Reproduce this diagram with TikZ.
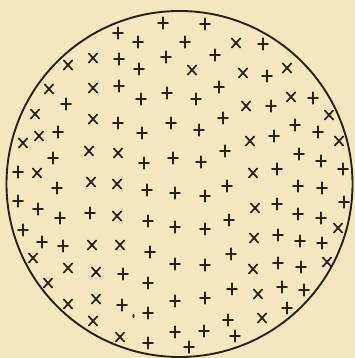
\documentclass[tikz,border=0pt]{standalone}
\definecolor{paper}{RGB}{243,231,192}
\definecolor{ink}{RGB}{40,33,22}
\tikzset{
  markline/.style={draw=ink,line width=1.7pt,line cap=round},
  plusmark/.pic={\draw[markline] (-5,0)--(5,0) (0,-5.8)--(0,5.8);},
  crossmark/.pic={\draw[markline] (-4.2,-4.6)--(4.2,4.6) (-4.2,4.6)--(4.2,-4.6);}
}
\begin{document}
\begin{tikzpicture}[x=1pt,y=-1pt]
\fill[paper] (0,0) rectangle (355,358);
\useasboundingbox (0,0) rectangle (355,358);
\draw[ink,line width=1.9pt] (179.5,184) circle (173);
% plus marks
\foreach \x/\y in {163/23,118/33,138/42,185/42,205/24,263/44,215/55,119/59,139/69,166/57,267/76,
  119/86,141/99,167/93,219/87,196/99,271/106,313/98,66/104,118/123,142/133,171/123,223/118,199/130,274/136,295/125,318/132,
  58/132,144/163,173/158,53/158,18/172,225/151,201/162,277/169,299/154,321/161,343/169,
  57/188,147/190,175/193,18/201,38/209,60/218,90/213,148/221,175/227,23/230,42/242,63/246,150/252,175/264,
  123/274,148/283,175/301,122/305,148/313,148/343,175/332,
  205/196,227/186,298/186,322/188,344/202,277/204,298/214,321/218,229/220,205/229,278/235,300/241,322/243,
  231/254,205/265,278/263,301/267,232/289,205/298,282/287,304/290,287/308,228/320,235/336,204/331,189/347}
  \pic at (\x,\y) {plusmark};
% cross marks
\foreach \x/\y in {68/65,93/58,49/89,93/88,35/114,93/119,39/136,23/143,89/151,118/153,37/173,91/182,
  236/43,192/70,243/73,287/68,246/106,291/97,329/115,250/141,339/141,253/173,
  117/184,117/216,92/245,120/245,33/258,68/268,96/272,48/283,68/304,96/299,93/321,120/337,
  255/208,338/228,254/238,253/269,327/262,258/294,262/318}
  \pic at (\x,\y) {crossmark};
\fill[ink] (133.5,316) ellipse (1.1pt and 2pt);
\end{tikzpicture}
\end{document}
